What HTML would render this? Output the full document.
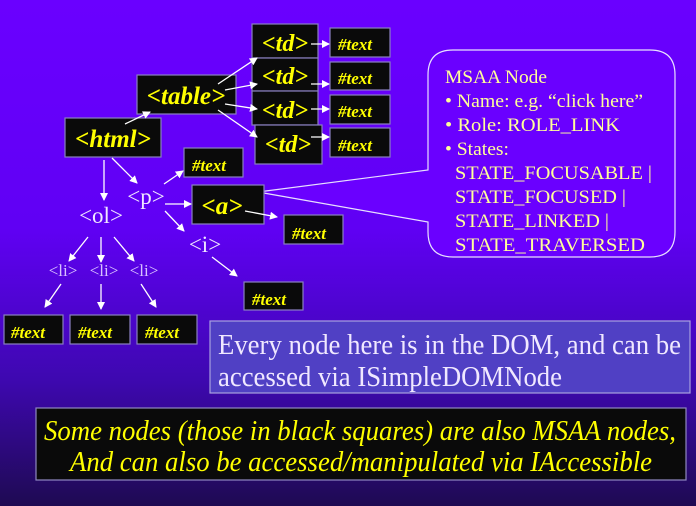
<!DOCTYPE html>
<html><head><meta charset="utf-8"><style>
html,body{margin:0;padding:0;width:696px;height:506px;overflow:hidden}
svg{display:block}
.b{fill:#0a0a0a;stroke:#8a80c0;stroke-width:1.2}
.y{fill:#ffff00;font-family:"Liberation Serif",serif;font-style:italic;font-weight:bold}
.w{fill:#f0e8ff;font-family:"Liberation Serif",serif}
.l{stroke:#ffffff;stroke-width:1.3;fill:none;marker-end:url(#ah)}
.c{fill:#ffff99;font-family:"Liberation Serif",serif;font-size:19px}
</style></head><body>
<svg width="696" height="506" viewBox="0 0 696 506" xmlns="http://www.w3.org/2000/svg" font-family="Liberation Serif, serif">
<defs>
<linearGradient id="bg" x1="0" y1="0" x2="0" y2="1">
<stop offset="0" stop-color="#6a00ff"/><stop offset="0.45" stop-color="#6000f4"/><stop offset="0.75" stop-color="#3e08b0"/><stop offset="1" stop-color="#1e0a52"/>
</linearGradient>
<marker id="ah" markerWidth="8" markerHeight="8" refX="7" refY="4" orient="auto" markerUnits="userSpaceOnUse"><path d="M0,0 L8,4 L0,8 z" fill="#fff"/></marker>
</defs>
<rect width="696" height="506" fill="url(#bg)"/>

<!-- callout -->
<path d="M453,50 L650,50 Q675,50 675,75 L675,232 Q675,257 650,257 L453,257 Q428,257 428,232 L428,222 L258,192 L428,170 L428,75 Q428,50 453,50 Z" fill="#6a00ff" stroke="#e8e0ff" stroke-width="1.2"/>
<text class="c" x="445" y="83" textLength="102" lengthAdjust="spacingAndGlyphs">MSAA Node</text>
<text class="c" x="445" y="107" textLength="198" lengthAdjust="spacingAndGlyphs">• Name: e.g. “click here”</text>
<text class="c" x="445" y="131" textLength="175" lengthAdjust="spacingAndGlyphs">• Role:  ROLE_LINK</text>
<text class="c" x="445" y="155" textLength="64" lengthAdjust="spacingAndGlyphs">• States:</text>
<text class="c" x="455" y="179" textLength="197" lengthAdjust="spacingAndGlyphs">STATE_FOCUSABLE |</text>
<text class="c" x="455" y="203" textLength="171" lengthAdjust="spacingAndGlyphs">STATE_FOCUSED |</text>
<text class="c" x="455" y="227" textLength="154" lengthAdjust="spacingAndGlyphs">STATE_LINKED |</text>
<text class="c" x="455" y="251" textLength="190" lengthAdjust="spacingAndGlyphs">STATE_TRAVERSED</text>

<!-- boxes -->
<rect class="b" x="252" y="24" width="66" height="34"/><text class="y" x="285" y="51" font-size="24" text-anchor="middle">&lt;td&gt;</text>
<rect class="b" x="252" y="58" width="66" height="33"/><text class="y" x="285" y="84" font-size="24" text-anchor="middle">&lt;td&gt;</text>
<rect class="b" x="252" y="91" width="66" height="34"/><text class="y" x="285" y="118" font-size="24" text-anchor="middle">&lt;td&gt;</text>
<rect class="b" x="255" y="125" width="67" height="39"/><text class="y" x="288" y="152" font-size="24" text-anchor="middle">&lt;td&gt;</text>
<rect class="b" x="330" y="28" width="60" height="29"/><text class="y" x="338" y="50" font-size="17">#text</text>
<rect class="b" x="330" y="62" width="60" height="28"/><text class="y" x="338" y="84" font-size="17">#text</text>
<rect class="b" x="330" y="95" width="60" height="29"/><text class="y" x="338" y="117" font-size="17">#text</text>
<rect class="b" x="330" y="128" width="60" height="29"/><text class="y" x="338" y="151" font-size="17">#text</text>
<rect class="b" x="137" y="75" width="99" height="39"/><text class="y" x="186" y="104" font-size="25" text-anchor="middle">&lt;table&gt;</text>
<rect class="b" x="65" y="118" width="96" height="39"/><text class="y" x="113" y="147" font-size="25" text-anchor="middle">&lt;html&gt;</text>
<rect class="b" x="184" y="148" width="59" height="29"/><text class="y" x="192" y="171" font-size="17">#text</text>
<rect class="b" x="192" y="185" width="72" height="39"/><text class="y" x="222" y="214" font-size="25" text-anchor="middle">&lt;a&gt;</text>
<rect class="b" x="284" y="215" width="59" height="29"/><text class="y" x="292" y="239" font-size="17">#text</text>
<rect class="b" x="244" y="282" width="59" height="28"/><text class="y" x="252" y="305" font-size="17">#text</text>
<rect class="b" x="4" y="315" width="59" height="29"/><text class="y" x="11" y="338" font-size="17">#text</text>
<rect class="b" x="70" y="315" width="60" height="29"/><text class="y" x="78" y="338" font-size="17">#text</text>
<rect class="b" x="137" y="315" width="60" height="29"/><text class="y" x="145" y="338" font-size="17">#text</text>

<!-- plain nodes -->
<text class="w" x="146" y="204" font-size="23" text-anchor="middle">&lt;p&gt;</text>
<text class="w" x="101" y="223" font-size="23" text-anchor="middle">&lt;ol&gt;</text>
<text class="w" x="205" y="252" font-size="23" text-anchor="middle">&lt;i&gt;</text>
<text class="w" x="63" y="276" font-size="17" text-anchor="middle" style="fill:#d8c0ff">&lt;li&gt;</text>
<text class="w" x="104" y="276" font-size="17" text-anchor="middle" style="fill:#d8c0ff">&lt;li&gt;</text>
<text class="w" x="144" y="276" font-size="17" text-anchor="middle" style="fill:#d8c0ff">&lt;li&gt;</text>

<!-- connectors -->
<line class="l" x1="125" y1="124" x2="150" y2="112"/>
<line class="l" x1="218" y1="84" x2="257" y2="58"/>
<line class="l" x1="225" y1="90" x2="257" y2="84"/>
<line class="l" x1="225" y1="104" x2="257" y2="109"/>
<line class="l" x1="218" y1="110" x2="257" y2="137"/>
<line class="l" x1="311" y1="44" x2="329" y2="44"/>
<line class="l" x1="311" y1="84" x2="329" y2="84"/>
<line class="l" x1="311" y1="109" x2="329" y2="109"/>
<line class="l" x1="311" y1="137" x2="329" y2="137"/>
<line class="l" x1="104" y1="160" x2="104" y2="200"/>
<line class="l" x1="112" y1="158" x2="137" y2="183"/>
<line class="l" x1="164" y1="184" x2="183" y2="171"/>
<line class="l" x1="165" y1="204" x2="191" y2="204"/>
<line class="l" x1="165" y1="211" x2="184" y2="231"/>
<line class="l" x1="245" y1="211" x2="277" y2="217"/>
<line class="l" x1="212" y1="257" x2="237" y2="276"/>
<line class="l" x1="88" y1="237" x2="69" y2="261"/>
<line class="l" x1="101" y1="237" x2="101" y2="262"/>
<line class="l" x1="114" y1="237" x2="134" y2="261"/>
<line class="l" x1="61" y1="284" x2="45" y2="307"/>
<line class="l" x1="101" y1="284" x2="101" y2="309"/>
<line class="l" x1="141" y1="284" x2="156" y2="307"/>

<!-- DOM box -->
<rect x="210" y="321" width="480" height="72" fill="#5040c4" stroke="#a8a0e0" stroke-width="1.2"/>
<text class="w" x="218" y="354" font-size="28" textLength="463" lengthAdjust="spacingAndGlyphs">Every node here is in the DOM, and can be</text>
<text class="w" x="218" y="386" font-size="28" textLength="344" lengthAdjust="spacingAndGlyphs">accessed via ISimpleDOMNode</text>

<!-- black box -->
<rect x="36" y="408" width="650" height="72" fill="#0a0a0a" stroke="#9088c0" stroke-width="1.2"/>
<text x="44" y="440" font-size="28" textLength="632" lengthAdjust="spacingAndGlyphs" font-style="italic" fill="#ffff00" font-family="Liberation Serif, serif">Some nodes (those in black squares) are also MSAA nodes,</text>
<text x="70" y="471" font-size="28" textLength="582" lengthAdjust="spacingAndGlyphs" font-style="italic" fill="#ffff00" font-family="Liberation Serif, serif">And can also be accessed/manipulated via IAccessible</text>
</svg>
</body></html>
